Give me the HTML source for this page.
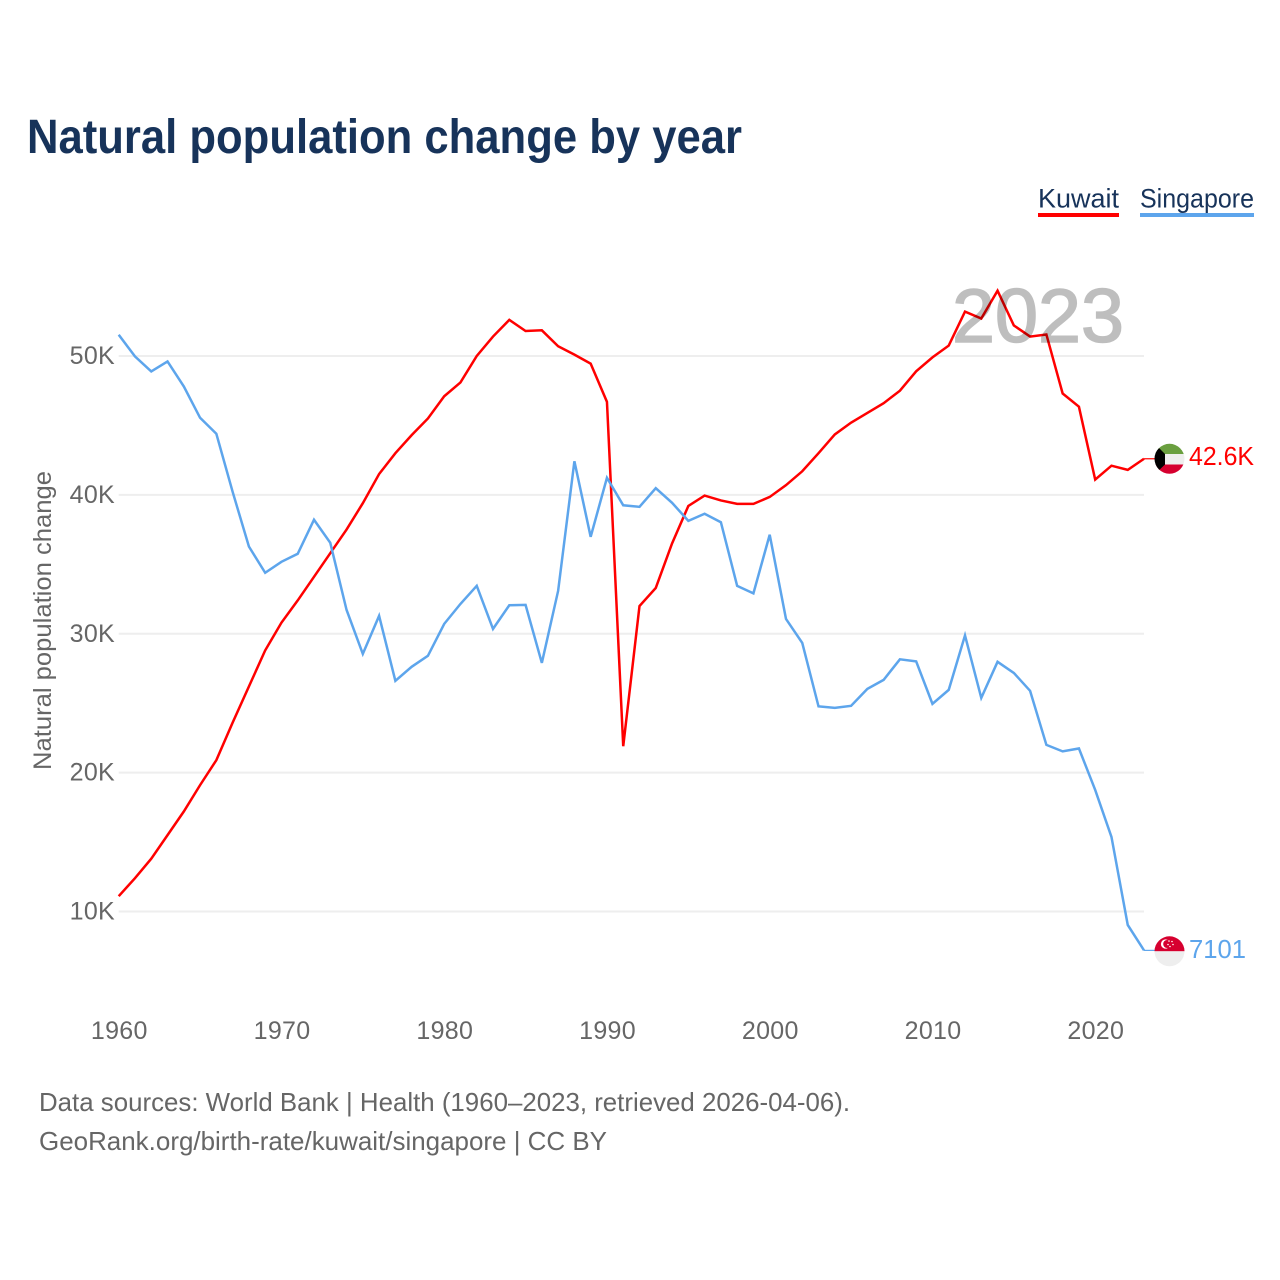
<!DOCTYPE html>
<html lang="en">
<head>
<meta charset="utf-8">
<title>Natural population change by year</title>
<style>
  html, body { margin: 0; padding: 0; background: #fff; }
  svg { display: block; font-family: "Liberation Sans", sans-serif; }
  .tick { font-size: 25px; fill: #666; letter-spacing: 0.3px; }
  .foot { font-size: 26px; fill: #666; }
  .legend { font-size: 27px; fill: #17335a; cursor: pointer; }
</style>
</head>
<body>
<svg id="chart" width="1280" height="1280" viewBox="0 0 1280 1280" xmlns="http://www.w3.org/2000/svg">
  <defs>
    <clipPath id="kw-clip"><circle cx="1169.5" cy="458.8" r="15"></circle></clipPath>
    <clipPath id="sg-clip"><circle cx="1169.5" cy="951.3" r="15"></circle></clipPath>
  </defs>
  <rect width="1280" height="1280" fill="#fff"></rect>
  <text x="27" y="153" font-size="48" font-weight="700" fill="#17335a" textLength="715" lengthAdjust="spacingAndGlyphs">Natural population change by year</text>

  <text class="legend" x="1038" y="207.5" textLength="81" lengthAdjust="spacingAndGlyphs">Kuwait</text>
  <rect x="1038" y="213" width="81" height="4" fill="#ff0000"></rect>
  <text class="legend" x="1140" y="207.5" textLength="114" lengthAdjust="spacingAndGlyphs">Singapore</text>
  <rect x="1140" y="213" width="114" height="4" fill="#5da5ec"></rect>

  <g id="grid"></g>
  <g id="y-ticks"></g>
  <g id="x-ticks"></g>
  <text class="tick" transform="translate(51 770) rotate(-90)" font-size="25" textLength="299" lengthAdjust="spacingAndGlyphs" style="letter-spacing:0">Natural population change</text>

  <g id="series"></g>

  <g clip-path="url(#kw-clip)">
    <rect x="1154" y="443" width="31" height="11" fill="#6a9f3f"></rect>
    <rect x="1154" y="454" width="31" height="10.5" fill="#eeeeee"></rect>
    <rect x="1154" y="464.5" width="31" height="10.5" fill="#d6002f"></rect>
    <polygon points="1154,443 1154,475 1165,464.5 1165,454" fill="#000"></polygon>
  </g>
  <g>
    <g clip-path="url(#sg-clip)">
      <rect x="1154" y="936" width="31" height="15.3" fill="#d6002f"></rect>
      <rect x="1154" y="951.3" width="31" height="16" fill="#eeeeee"></rect>
    </g>
    <circle cx="1165.5" cy="944" r="4.6" fill="#fff"></circle>
    <circle cx="1167.2" cy="944" r="4" fill="#d6002f"></circle>
    <g fill="#fff">
      <circle cx="1169" cy="941" r="0.8"></circle>
      <circle cx="1172" cy="941.5" r="0.8"></circle>
      <circle cx="1173" cy="944.5" r="0.8"></circle>
      <circle cx="1170" cy="946.5" r="0.8"></circle>
      <circle cx="1168" cy="944.5" r="0.8"></circle>
    </g>
  </g>

  <text id="label-kw" x="1189" y="465" font-size="25.5" fill="#ff0000" textLength="65" lengthAdjust="spacingAndGlyphs"></text>
  <text id="label-sg" x="1189" y="958" font-size="25.5" fill="#5da5ec" textLength="57" lengthAdjust="spacingAndGlyphs"></text>

  <text x="952" y="341.8" font-size="76" fill="#000" stroke="#000" stroke-width="1.6" opacity="0.25" textLength="172" lengthAdjust="spacingAndGlyphs">2023</text>

  <text class="foot" x="39" y="1111" textLength="811" lengthAdjust="spacingAndGlyphs">Data sources: World Bank | Health (1960–2023, retrieved 2026-04-06).</text>
  <text class="foot" x="39" y="1150" textLength="568" lengthAdjust="spacingAndGlyphs">GeoRank.org/birth-rate/kuwait/singapore | CC BY</text>
</svg>
<script>
const startYear = 1960;
const yTickValues = [10, 20, 30, 40, 50];
const yTickLabels = ["10K", "20K", "30K", "40K", "50K"];
const xTickYears = [1960, 1970, 1980, 1990, 2000, 2010, 2020];
const kuwaitEndLabel = "42.6K";
const singaporeEndLabel = "7101";
// Natural population change in thousands, one value per year from 1960 to 2023
const kuwaitValues = [
  11.1, 12.4, 13.8, 15.5, 17.2, 19.1, 20.9, 23.6, 26.2, 28.8,
  30.8, 32.4, 34.1, 35.8, 37.5, 39.4, 41.5, 43.0, 44.3, 45.5,
  47.1, 48.1, 50.0, 51.4, 52.6, 51.8, 51.85, 50.7, 50.1, 49.45,
  46.7, 21.9, 32.0, 33.3, 36.5, 39.2, 39.95, 39.6, 39.35, 39.35,
  39.85, 40.7, 41.7, 43.0, 44.35, 45.2, 45.9, 46.6, 47.5, 48.9,
  49.9, 50.75, 53.2, 52.7, 54.7, 52.2, 51.4, 51.55, 47.3, 46.35,
  41.1, 42.1, 41.8, 42.6
];
const singaporeValues = [
  51.53, 49.97, 48.89, 49.61, 47.81, 45.55, 44.40, 40.22, 36.28, 34.39,
  35.18, 35.76, 38.21, 36.55, 31.72, 28.55, 31.29, 26.61, 27.62, 28.41,
  30.71, 32.15, 33.45, 30.35, 32.05, 32.08, 27.90, 33.09, 42.42, 36.98,
  41.23, 39.25, 39.14, 40.48, 39.43, 38.13, 38.64, 38.03, 33.45, 32.91,
  37.13, 31.07, 29.34, 24.77, 24.66, 24.81, 26.03, 26.68, 28.16, 28.01,
  24.95, 25.96, 29.88, 25.38, 27.98, 27.18, 25.89, 22.0, 21.53, 21.74,
  18.75, 15.37, 9.03, 7.2
];

const SVG_NS = "http://www.w3.org/2000/svg";
function xScale(year) { return 118.7 + (year - startYear) * 16.275; }
function yScale(value) { return 911.5 - (value - 10) * 13.8875; }
function make(tag, attrs, parent) {
  const el = document.createElementNS(SVG_NS, tag);
  Object.keys(attrs).forEach(function (k) { el.setAttribute(k, attrs[k]); });
  parent.appendChild(el);
  return el;
}

const grid = document.getElementById("grid");
const yTicks = document.getElementById("y-ticks");
const xTicks = document.getElementById("x-ticks");
const seriesGroup = document.getElementById("series");
const lastYear = startYear + kuwaitValues.length - 1;

yTickValues.forEach(function (v, i) {
  const line = make("line", { x1: xScale(startYear), x2: xScale(lastYear), y1: yScale(v), y2: yScale(v), stroke: "#eeeeee", "stroke-width": 2 }, grid);
  
  
  const label = make("text", { class: "tick", x: 115, y: yScale(v) + 8, "text-anchor": "end" }, yTicks);
  label.textContent = yTickLabels[i];
  
  
});

xTickYears.forEach(function (yr) {
  const label = make("text", { class: "tick", x: xScale(yr) + 0.6, y: 1039, "text-anchor": "middle" }, xTicks);
  label.textContent = String(yr);
  
  
});

function linePoints(values) {
  return values.map(function (v, i) {
    return xScale(startYear + i).toFixed(2) + "," + yScale(v).toFixed(2);
  }).join(" ");
}

const kuwaitLine = make("polyline", { points: linePoints(kuwaitValues), fill: "none", stroke: "#ff0000", "stroke-width": 2.5, "stroke-linejoin": "miter" }, seriesGroup);



const singaporeLine = make("polyline", { points: linePoints(singaporeValues), fill: "none", stroke: "#5da5ec", "stroke-width": 2.5, "stroke-linejoin": "miter" }, seriesGroup);



const kuwaitLast = kuwaitValues[kuwaitValues.length - 1];
const kuwaitConnector = make("line", { x1: xScale(lastYear), x2: 1156, y1: yScale(kuwaitLast), y2: yScale(kuwaitLast), stroke: "#ff0000", "stroke-width": 1.2 }, seriesGroup);



const singaporeLast = singaporeValues[singaporeValues.length - 1];
const singaporeConnector = make("line", { x1: xScale(lastYear), x2: 1156, y1: yScale(singaporeLast), y2: yScale(singaporeLast), stroke: "#5da5ec", "stroke-width": 1.2 }, seriesGroup);



document.getElementById("label-kw").textContent = kuwaitEndLabel;
document.getElementById("label-sg").textContent = singaporeEndLabel;
</script>
</body>
</html>
